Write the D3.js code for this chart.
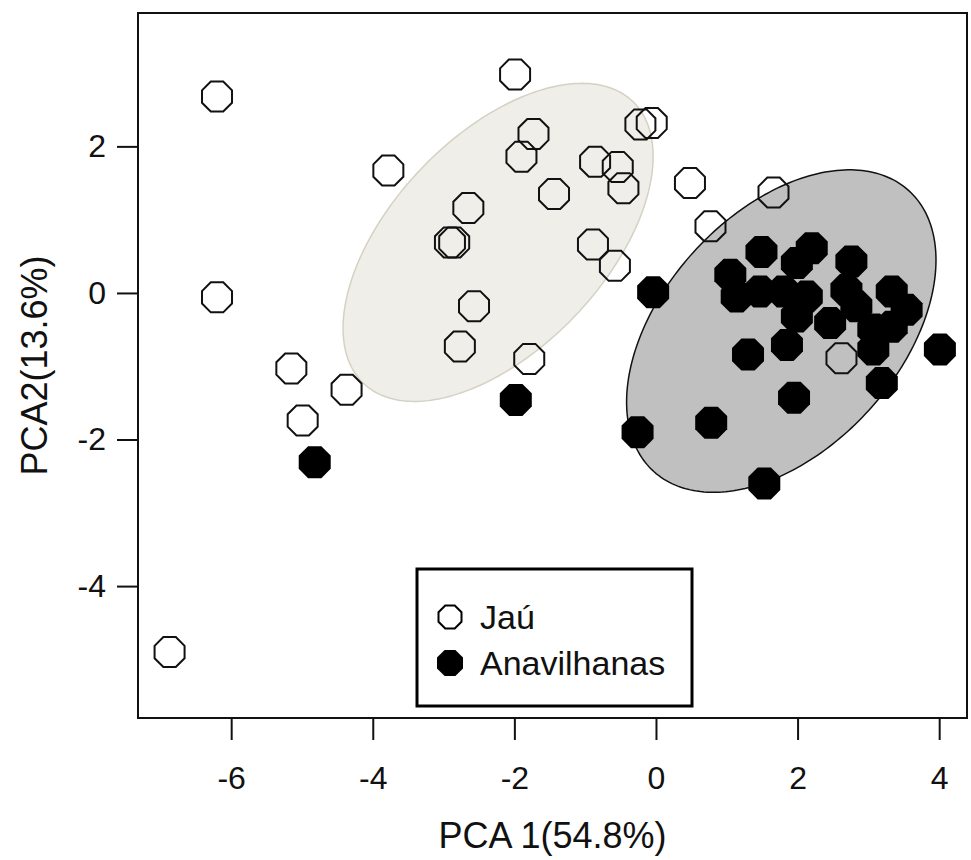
<!DOCTYPE html>
<html>
<head>
<meta charset="utf-8">
<script src="https://cdn.jsdelivr.net/npm/d3@7"></script>
<style>
body { margin: 0; background: #fff; }
svg text { font-family: "Liberation Sans", Arial, sans-serif; fill: #111; }
</style>
</head>
<body>
<div id="pca"><svg width="971" height="860"></svg></div>
<script>
var WIDTH = 971;
var HEIGHT = 860;

// PCA scores
var jauX = [-6.20, -1.99, -3.78, -1.73, -1.90, -2.65, -2.91, -2.85, -6.20, -2.57, -2.77, -1.79, -5.15, -4.37,
	-4.99, -6.87, -1.44, -0.22, -0.06, -0.86, -0.54, -0.46, 0.48, 1.66, 0.77, -0.89, -0.58, 2.62];
var jauY = [2.68, 2.98, 1.67, 2.17, 1.86, 1.16, 0.69, 0.69, -0.06, -0.18, -0.73, -0.90, -1.03, -1.32,
	-1.74, -4.90, 1.35, 2.30, 2.32, 1.79, 1.72, 1.43, 1.50, 1.37, 0.91, 0.66, 0.37, -0.89];

var anaX = [-4.82, -1.98, -0.04, -0.26, 0.78, 1.53, 1.95, 3.19, 4.01, 1.30, 1.49, 2.20, 1.99, 2.76, 1.05,
	1.14, 1.47, 1.80, 2.13, 2.69, 2.83, 3.33, 3.54, 1.99, 2.46, 1.85, 3.07, 3.33, 3.07];
var anaY = [-2.31, -1.46, 0.01, -1.90, -1.77, -2.60, -1.43, -1.23, -0.77, -0.84, 0.56, 0.61, 0.41, 0.43, 0.25,
	-0.05, 0.02, 0.02, -0.05, 0.04, -0.18, 0.02, -0.23, -0.32, -0.41, -0.71, -0.50, -0.46, -0.77];

// ellipses: centre, half width, half height, correlation
var ellipseNames = ['Jaú', 'Anavilhanas'];
var ellipseCx = [-2.23, 1.77];
var ellipseCy = [0.69, -0.52];
var ellipseWx = [2.19, 2.185];
var ellipseHy = [2.17, 2.20];
var ellipseR = [0.54, 0.44];

var xTicks = [-6, -4, -2, 0, 2, 4];
var yTicks = [2, 0, -2, -4];
var legendLabels = ['Jaú', 'Anavilhanas'];

var boxLeft = 138, boxRight = 967, boxTop = 13, boxBottom = 718;

// R draws its circles as octagons at this size; size = inradius here
var octagon = {
	draw: function(context, size) {
		var R = size/Math.cos(Math.PI/8);
		for (var k = 0; k < 8; k++) {
			var a = Math.PI/8+k*Math.PI/4;
			if (k === 0) context.moveTo(R*Math.cos(a), R*Math.sin(a));
			else context.lineTo(R*Math.cos(a), R*Math.sin(a));
		}
		context.closePath();
	}
};

function ellipsePoints(i) {
	var pts = [];
	var delta = Math.acos(ellipseR[i]);
	for (var k = 0; k < 240; k++) {
		var t = k/240*2*Math.PI;
		pts.push([ellipseCx[i]+ellipseWx[i]*Math.cos(t), ellipseCy[i]+ellipseHy[i]*Math.cos(t+delta)]);
	}
	return pts;
}

function plain(d) {
	return String(d);
}

function init() {
	var svg = d3.select('#pca').select('svg');

	var x = d3.scaleLinear().domain([-7.316, 4.393]).range([boxLeft, boxRight]);
	var y = d3.scaleLinear().domain([-5.80, 3.82]).range([boxBottom, boxTop]);

	var line = d3.line()
		.x(function(d) { return x(d[0]); })
		.y(function(d) { return y(d[1]); })
		.curve(d3.curveLinearClosed);

	// ellipses
	svg.append('path')
		.attr('d', line(ellipsePoints(0)))
		.attr('fill', '#efeee8')
		.attr('stroke', '#d4d2c3')
		.attr('stroke-width', 1.5);

	svg.append('path')
		.attr('d', line(ellipsePoints(1)))
		.attr('fill', '#c0c0c0')
		.attr('stroke', '#111')
		.attr('stroke-width', 1.5);

	// points
	svg.append('g').selectAll('path')
		.data(d3.range(jauX.length))
		.enter().append('path')
		.attr('d', d3.symbol().type(octagon).size(15))
		.attr('transform', function(i) { return 'translate('+x(jauX[i])+','+y(jauY[i])+')'; })
		.attr('fill', 'none')
		.attr('stroke', '#111')
		.attr('stroke-width', 2);

	svg.append('g').selectAll('path')
		.data(d3.range(anaX.length))
		.enter().append('path')
		.attr('d', d3.symbol().type(octagon).size(16))
		.attr('transform', function(i) { return 'translate('+x(anaX[i])+','+y(anaY[i])+')'; })
		.attr('fill', '#000');

	// box
	svg.append('rect')
		.attr('x', boxLeft).attr('y', boxTop)
		.attr('width', boxRight-boxLeft).attr('height', boxBottom-boxTop)
		.attr('fill', 'none')
		.attr('stroke', '#111')
		.attr('stroke-width', 2);

	// axes
	var xAxis = d3.axisBottom(x).tickValues(xTicks).tickFormat(plain).tickSize(22).tickPadding(26);
	var gx = svg.append('g').attr('transform', 'translate(0,'+boxBottom+')').call(xAxis);
	gx.select('.domain').remove();
	gx.selectAll('line').attr('stroke', '#111').attr('stroke-width', 2);
	gx.selectAll('text').attr('font-size', 32).attr('fill', '#111');

	var yAxis = d3.axisLeft(y).tickValues(yTicks).tickFormat(plain).tickSize(21).tickPadding(11);
	var gy = svg.append('g').attr('transform', 'translate('+boxLeft+',0)').call(yAxis);
	gy.select('.domain').remove();
	gy.selectAll('line').attr('stroke', '#111').attr('stroke-width', 2);
	gy.selectAll('text').attr('font-size', 32).attr('fill', '#111');

	svg.selectAll('.tick text').attr('font-family', '"Liberation Sans", Arial, sans-serif');

	svg.append('text')
		.attr('x', (boxLeft+boxRight)/2)
		.attr('y', 848)
		.attr('text-anchor', 'middle')
		.attr('font-size', 36)
		.text('PCA 1(54.8%)');

	svg.append('text')
		.attr('transform', 'translate(47,'+((boxTop+boxBottom)/2)+') rotate(-90)')
		.attr('text-anchor', 'middle')
		.attr('font-size', 36)
		.text('PCA2(13.6%)');

	// legend
	var lg = svg.append('g');
	lg.append('rect')
		.attr('x', 417).attr('y', 569)
		.attr('width', 275).attr('height', 137)
		.attr('fill', '#fff')
		.attr('stroke', '#000')
		.attr('stroke-width', 3);

	lg.selectAll('path')
		.data(legendLabels)
		.enter().append('path')
		.attr('d', function(d, i) { return d3.symbol().type(octagon).size(i ? 13 : 11.5)(); })
		.attr('transform', function(d, i) { return 'translate(450,'+(617+i*46)+')'; })
		.attr('fill', function(d, i) { return i ? '#000' : '#fff'; })
		.attr('stroke', '#000')
		.attr('stroke-width', function(d, i) { return i ? 0 : 2; });

	lg.selectAll('text')
		.data(legendLabels)
		.enter().append('text')
		.attr('x', 480)
		.attr('y', function(d, i) { return 629+i*46; })
		.attr('font-size', 34)
		.text(function(d) { return d; });
}

init();
</script>
</body>
</html>
